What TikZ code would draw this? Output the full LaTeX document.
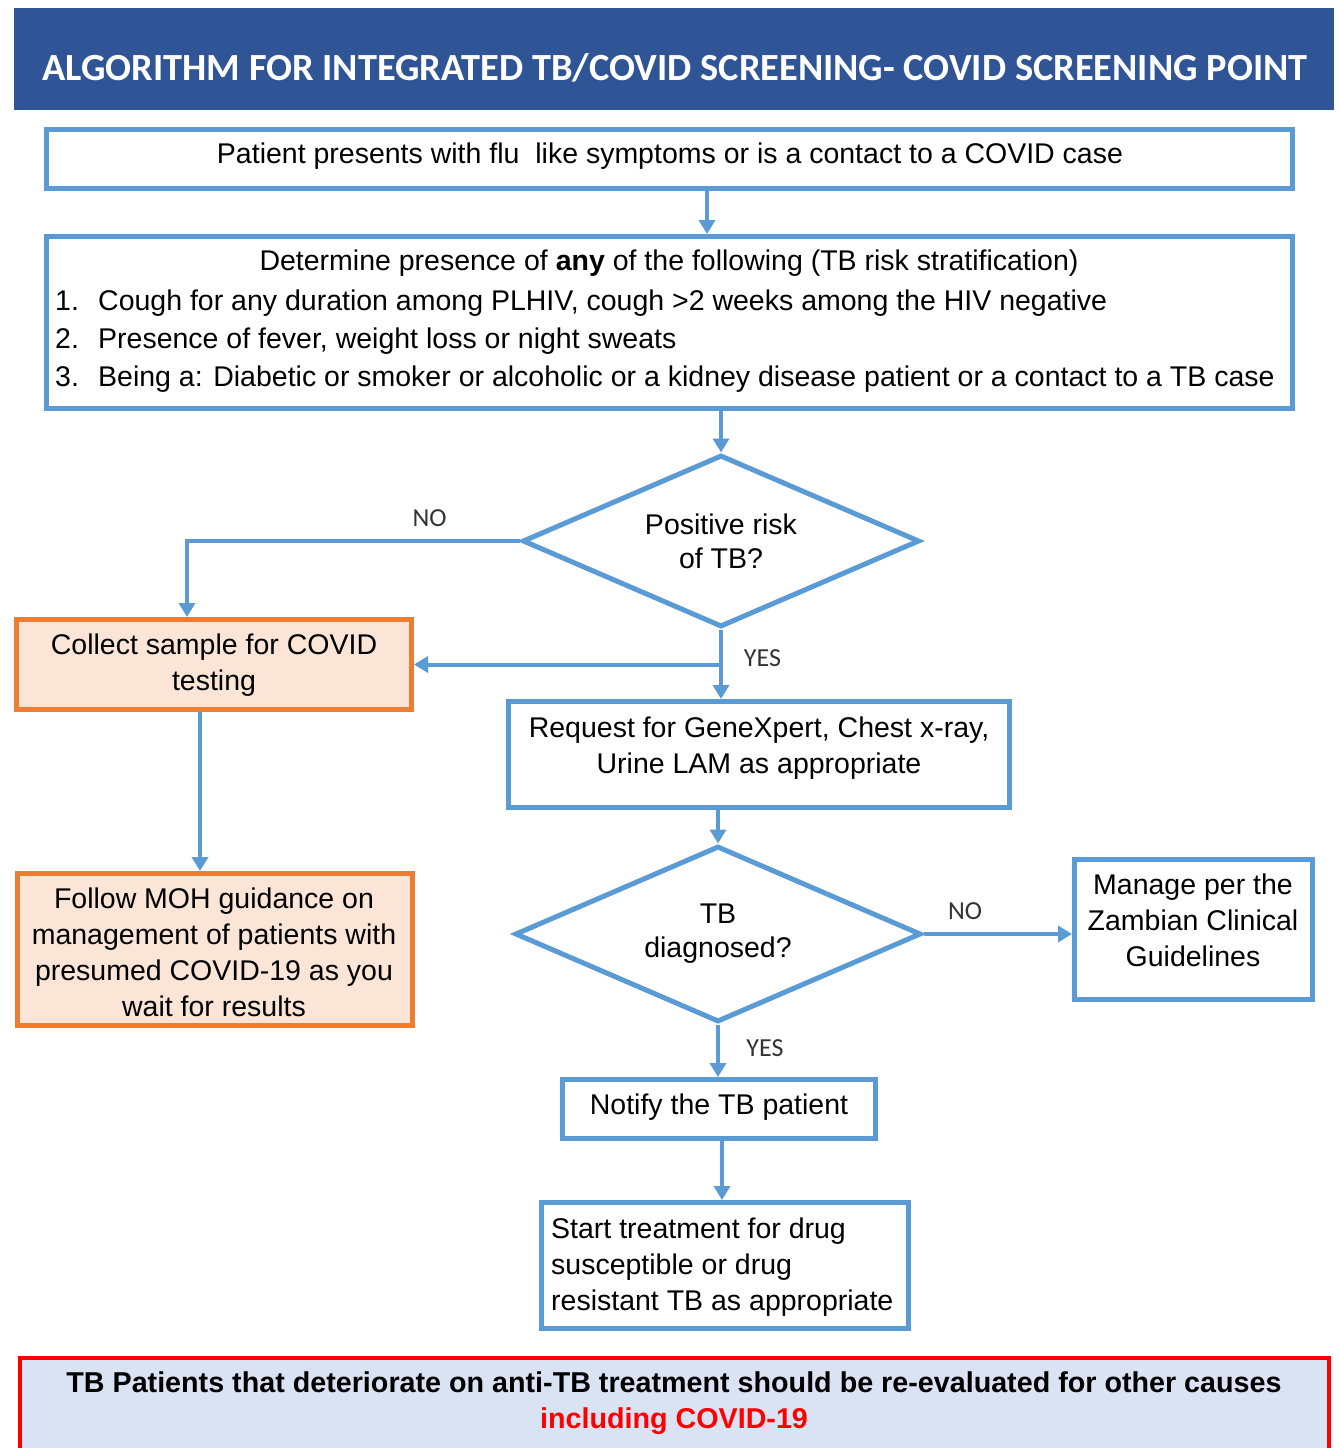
\documentclass[tikz,border=0pt]{standalone}
\usepackage{fontspec}
\setmainfont{Liberation Sans}
\newfontfamily\calibri{Carlito}
\usetikzlibrary{shapes.geometric,arrows.meta}
\definecolor{hdrblue}{HTML}{2F5597}
\definecolor{lineblue}{HTML}{5B9BD5}
\definecolor{covidorange}{HTML}{ED7D31}
\definecolor{covidfill}{HTML}{FBE5D6}
\definecolor{notefill}{HTML}{DAE3F3}
\definecolor{notered}{HTML}{FF0000}
\begin{document}
\begin{tikzpicture}[x=1pt,y=-1pt,
  stepbox/.style={draw=lineblue, line width=5pt, fill=white, inner sep=0pt},
  covidbox/.style={draw=covidorange, line width=5pt, fill=covidfill, inner sep=0pt},
  decision/.style={diamond, aspect=2.3, draw=lineblue, line width=5pt, fill=white, inner sep=0pt,
    align=center, font=\fontsize{28.5}{34}\selectfont},
  txt/.style={inner sep=0pt, align=center, font=\fontsize{28.5}{36}\selectfont},
  lbl/.style={inner sep=0pt, anchor=base, font=\calibri\fontsize{26}{28}\selectfont, text=black!80},
  conn/.style={draw=lineblue, line width=4pt,
    -{Triangle[length=14pt,width=16pt]}},
]
\useasboundingbox (0,0) rectangle (1340,1448);
\fill[white] (0,0) rectangle (1340,1448);

% heading
\node[fill=hdrblue, minimum width=1320pt, minimum height=102pt, inner sep=0pt] (title) at (674,59) {};
\node[inner sep=0pt, anchor=base, text=white, font=\calibri\bfseries\fontsize{38.4}{40}\selectfont]
  (titletext) at (675,80.5) {ALGORITHM FOR INTEGRATED TB/COVID SCREENING- COVID SCREENING POINT};

% entry box
\node[stepbox, minimum width=1246pt, minimum height=59pt] (entry) at (669.5,159) {};
\node[txt] (entrytext) at (670,156) {Patient presents with flu\ \ like symptoms or is a contact to a COVID case};

% risk stratification box
\node[stepbox, minimum width=1246pt, minimum height=172pt] (risk) at (669.5,322.5) {};
\node[txt, anchor=base] (riskhead) at (669,270) {Determine presence of \textbf{any} of the following (TB risk stratification)};
\node[txt, anchor=base west] (n1) at (55,310) {1.};
\node[txt, anchor=base west] (r1) at (98,310) {Cough for any duration among PLHIV, cough >2 weeks among the HIV negative};
\node[txt, anchor=base west] (n2) at (55,348) {2.};
\node[txt, anchor=base west] (r2) at (98,348) {Presence of fever, weight loss or night sweats};
\node[txt, anchor=base west] (n3) at (55,386) {3.};
\node[txt, anchor=base west] (r3) at (98,386) {Being a: Diabetic or smoker or alcoholic or a kidney disease patient or a contact to a TB case};

% first decision
\node[decision, minimum width=397pt, minimum height=172pt] (d1) at (721,541) {Positive risk\\of TB?};

% COVID branch
\node[covidbox, minimum width=395pt, minimum height=90pt] (c1) at (214,664.5) {};
\node[txt] (c1text) at (214,665) {Collect sample for COVID\\testing};
\node[covidbox, minimum width=395pt, minimum height=152pt] (m1) at (215,949.5) {};
\node[txt] (m1text) at (214,952) {Follow MOH guidance on\\management of patients with\\presumed COVID-19 as you\\wait for results};

% TB branch
\node[stepbox, minimum width=501pt, minimum height=106pt] (req) at (759,754.5) {};
\node[txt] (reqtext) at (759,748) {Request for GeneXpert, Chest x-ray,\\Urine LAM as appropriate};
\node[decision, minimum width=406pt, minimum height=176pt] (d2) at (718,934) {TB\\diagnosed?};
\node[stepbox, minimum width=238pt, minimum height=140pt] (mg) at (1193.5,929.5) {};
\node[txt] (mgtext) at (1193,920) {Manage per the\\Zambian Clinical\\Guidelines};
\node[stepbox, minimum width=313pt, minimum height=59pt] (nt) at (719,1109) {};
\node[txt] (nttext) at (719,1107) {Notify the TB patient};
\node[stepbox, minimum width=367pt, minimum height=126pt] (st) at (725,1265.5) {};
\node[txt, anchor=west, align=left] (sttext) at (551,1267) {Start treatment for drug\\susceptible or drug\\resistant TB as appropriate};

% closing note
\node[draw=notered, fill=notefill, line width=4pt, inner sep=0pt, minimum width=1309pt,
  minimum height=104pt, anchor=north] (note) at (674.5,1356) {};
\node[txt, font=\bfseries\fontsize{28.7}{36}\selectfont] (notetext) at (674,1403)
  {TB Patients that deteriorate on anti-TB treatment should be re-evaluated for other causes\\
   \textcolor{notered}{including COVID-19}};

% connectors
\draw[conn] ([xshift=37.5pt]entry.south) -- ([xshift=37.5pt]entry.south |- risk.north);
\draw[conn] (d1.north |- risk.south) -- (d1.north);
\draw[conn] (d1.west) -| ([xshift=-27pt]c1.north);
\draw[conn] (d1.south) -- (d1.south |- req.north);
\draw[conn] (d1.south |- c1.east) -- (c1.east);
\draw[conn] ([xshift=-14pt]c1.south) -- ([xshift=-14pt]c1.south |- m1.north);
\draw[conn] (d2.north |- req.south) -- (d2.north);
\draw[conn] (d2.east) -- (d2.east -| mg.west);
\draw[conn] (d2.south) -- (d2.south |- nt.north);
\draw[conn] ([xshift=-3pt]st.north |- nt.south) -- ([xshift=-3pt]st.north);

% branch labels
\node[lbl] (no1) at (429.5,526.5) {NO};
\node[lbl] (yes1) at (762.5,666.5) {YES};
\node[lbl] (no2) at (965,919.5) {NO};
\node[lbl] (yes2) at (765,1056.5) {YES};
\end{tikzpicture}
\end{document}
